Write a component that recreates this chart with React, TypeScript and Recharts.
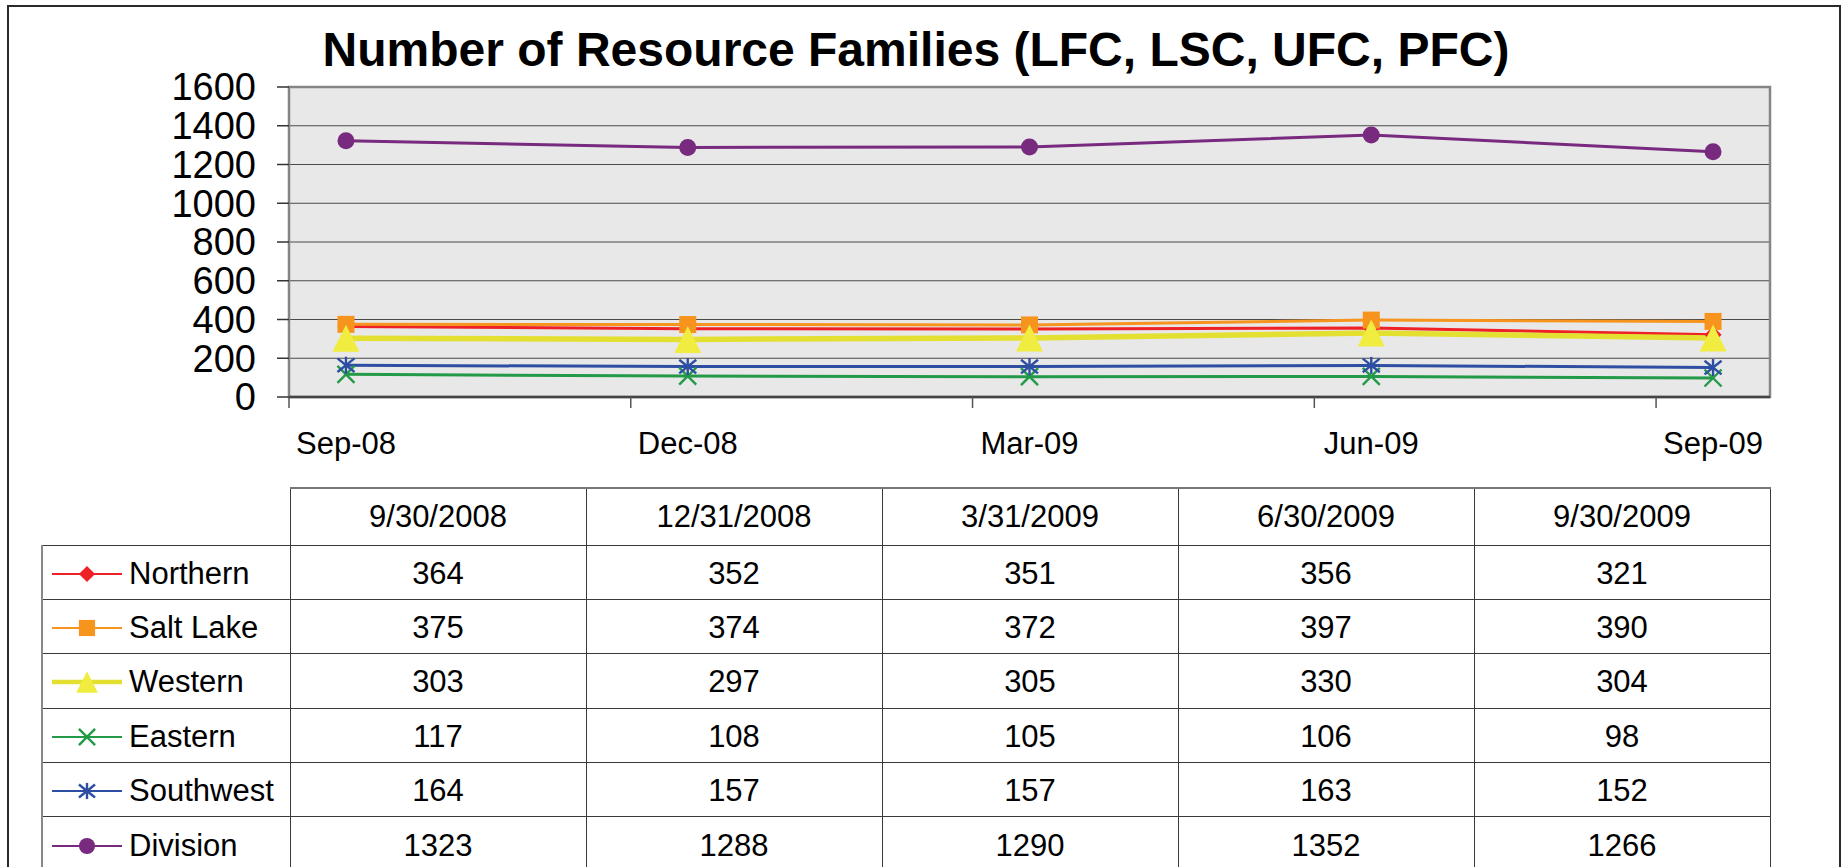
import React from 'react';
import { LineChart, Line, XAxis, YAxis, CartesianGrid, ReferenceArea } from 'recharts';

const FONT = '"Liberation Sans", Arial, Helvetica, sans-serif';

// ---- data ----
const quarterLabels = ['Sep-08', 'Dec-08', 'Mar-09', 'Jun-09', 'Sep-09'];
const quarterDates = ['9/30/2008', '12/31/2008', '3/31/2009', '6/30/2009', '9/30/2009'];
const monthIndex = [0, 3, 6, 9, 12]; // months after Sep-08 (monthly date axis)
const quarterBoundaries = [-0.5, 2.5, 5.5, 8.5, 11.5];
const northern = [364, 352, 351, 356, 321];
const saltLake = [375, 374, 372, 397, 390];
const western = [303, 297, 305, 330, 304];
const eastern = [117, 108, 105, 106, 98];
const southwest = [164, 157, 157, 163, 152];
const division = [1323, 1288, 1290, 1352, 1266];
const yTicks = [0, 200, 400, 600, 800, 1000, 1200, 1400, 1600];

type Shape = 'diamond' | 'square' | 'triangle' | 'x' | 'star' | 'circle';
interface SeriesDef { key: string; name: string; values: number[]; color: string; fill: string; width: number; shape: Shape; }

const series: SeriesDef[] = [
  { key: 'northern', name: 'Northern', values: northern, color: '#ee2226', fill: '#ee2226', width: 3, shape: 'diamond' },
  { key: 'saltLake', name: 'Salt Lake', values: saltLake, color: '#f7941e', fill: '#f7941e', width: 3, shape: 'square' },
  { key: 'western', name: 'Western', values: western, color: '#e3e032', fill: '#f0ec40', width: 5.5, shape: 'triangle' },
  { key: 'eastern', name: 'Eastern', values: eastern, color: '#229a48', fill: '#229a48', width: 3, shape: 'x' },
  { key: 'southwest', name: 'Southwest', values: southwest, color: '#2d4ea2', fill: '#2d4ea2', width: 3, shape: 'star' },
  { key: 'division', name: 'Division', values: division, color: '#772a7e', fill: '#772a7e', width: 3, shape: 'circle' },
];

const chartData = monthIndex.map((m, i) => {
  const row: Record<string, number> = { m };
  series.forEach((s) => { row[s.key] = s.values[i]; });
  return row;
});

function Marker({ shape, cx, cy, color, fill, scale = 1 }: { shape: Shape; cx: number; cy: number; color: string; fill: string; scale?: number }) {
  const h = 8.5 * scale;
  switch (shape) {
    case 'diamond':
      return <path d={`M${cx},${cy - h}L${cx + h},${cy}L${cx},${cy + h}L${cx - h},${cy}Z`} fill={fill} />;
    case 'square':
      return <rect x={cx - h} y={cy - h} width={2 * h} height={2 * h} fill={fill} />;
    case 'triangle': {
      const t = 13.5 * scale;
      return <path d={`M${cx},${cy - t}L${cx + t},${cy + t}L${cx - t},${cy + t}Z`} fill={fill} />;
    }
    case 'x':
      return (
        <g stroke={color} strokeWidth={2.4}>
          <line x1={cx - h} y1={cy - h} x2={cx + h} y2={cy + h} />
          <line x1={cx - h} y1={cy + h} x2={cx + h} y2={cy - h} />
        </g>
      );
    case 'star':
      return (
        <g stroke={color} strokeWidth={2.4}>
          <line x1={cx - h} y1={cy - h * 0.8} x2={cx + h} y2={cy + h * 0.8} />
          <line x1={cx - h} y1={cy + h * 0.8} x2={cx + h} y2={cy - h * 0.8} />
          <line x1={cx} y1={cy - h} x2={cx} y2={cy + h} />
        </g>
      );
    case 'circle':
    default:
      return <circle cx={cx} cy={cy} r={h} fill={fill} />;
  }
}

const XTick = (props: any) => {
  const { x, y, payload } = props;
  const v = payload.value;
  const i = monthIndex.indexOf(v);
  if (i < 0) {
    return <line x1={x} x2={x} y1={y} y2={y + 11} stroke="#555" strokeWidth={1.5} />;
  }
  return (
    <text x={x} y={y + 57} textAnchor="middle" fontSize={31} fontFamily={FONT} fill="#000">
      {quarterLabels[i]}
    </text>
  );
};

const border = '1px solid #3a3a3a';

export default function App() {
  return (
    <div style={{ position: 'absolute', left: 0, top: 0, width: 1847, height: 867, overflow: 'hidden', background: '#fff' }}>
      <div style={{ position: 'absolute', left: 7, top: 5, width: 1830, height: 900, border: '2px solid #2a2a2a' }} />
      <svg style={{ position: 'absolute', left: 0, top: 0 }} width={1847} height={90}>
        <text x={916} y={66} textAnchor="middle" fontSize={48} fontWeight="bold" fontFamily={FONT} fill="#000">
          Number of Resource Families (LFC, LSC, UFC, PFC)
        </text>
      </svg>
      <div style={{ position: 'absolute', left: 0, top: 0 }}>
        <LineChart width={1847} height={480} data={chartData} margin={{ top: 87, right: 77, bottom: 23, left: 0 }}>
          <CartesianGrid vertical={false} horizontal={true} fill="#e8e8e8" stroke="#4a4a4a" strokeWidth={1.2} />
          <XAxis
            dataKey="m"
            type="number"
            domain={[-0.5, 12.5]}
            ticks={[...quarterBoundaries, ...monthIndex]}
            interval={0}
            height={60}
            axisLine={{ stroke: '#444', strokeWidth: 2.5 }}
            tickLine={false}
            tickSize={0}
            tickMargin={0}
            tick={<XTick />}
          />
          <YAxis
            type="number"
            domain={[0, 1600]}
            ticks={yTicks}
            interval={0}
            width={289}
            axisLine={false}
            tickSize={12}
            tickMargin={21}
            tickLine={{ stroke: '#333', strokeWidth: 1.5 }}
            tick={{ fontSize: 38, fontFamily: FONT, fill: '#000' }}
          />
          <ReferenceArea x1={-0.5} x2={12.5} y1={0} y2={1600} fill="none" stroke="#858585" strokeWidth={2.5} ifOverflow="visible" />
          {series.map((s) => (
            <Line
              key={s.key}
              dataKey={s.key}
              name={s.name}
              stroke={s.color}
              strokeWidth={s.width}
              isAnimationActive={false}
              activeDot={false}
              dot={(p: any) => (
                <g key={`${s.key}-${p.index}`}>
                  <Marker shape={s.shape} cx={p.cx} cy={p.cy} color={s.color} fill={s.fill} />
                </g>
              )}
            />
          ))}
        </LineChart>
      </div>
      <table
        style={{
          position: 'absolute', left: 41, top: 487, borderCollapse: 'collapse', tableLayout: 'fixed',
          fontFamily: FONT, fontSize: 31, color: '#000',
        }}
      >
        <colgroup>
          <col style={{ width: 248 }} />
          {quarterDates.map((d) => <col key={d} style={{ width: 296 }} />)}
        </colgroup>
        <thead>
          <tr style={{ height: 57 }}>
            <th style={{ border: 'none', padding: 0 }} />
            {quarterDates.map((d) => (
              <th key={d} style={{ border, borderTop: '2px solid #777', fontWeight: 'normal', padding: 0, textAlign: 'center' }}>{d}</th>
            ))}
          </tr>
        </thead>
        <tbody>
          {series.map((s) => (
            <tr key={s.key} style={{ height: 54.4 }}>
              <td style={{ border, borderLeft: '2px solid #888', padding: 0, paddingTop: 3 }}>
                <div style={{ display: 'flex', alignItems: 'center', height: 50 }}>
                  <svg width={86} height={40} style={{ flex: 'none' }}>
                    <line x1={9} x2={79} y1={20} y2={20} stroke={s.color} strokeWidth={s.shape === 'triangle' ? 4.5 : 2.2} />
                    <Marker shape={s.shape} cx={44} cy={20} color={s.color} fill={s.fill} scale={s.shape === 'triangle' ? 0.8 : 0.95} />
                  </svg>
                  <span style={{ whiteSpace: 'nowrap' }}>{s.name}</span>
                </div>
              </td>
              {s.values.map((v, i) => (
                <td key={i} style={{ border, padding: 0, paddingTop: 3, textAlign: 'center' }}>{v}</td>
              ))}
            </tr>
          ))}
        </tbody>
      </table>
    </div>
  );
}
